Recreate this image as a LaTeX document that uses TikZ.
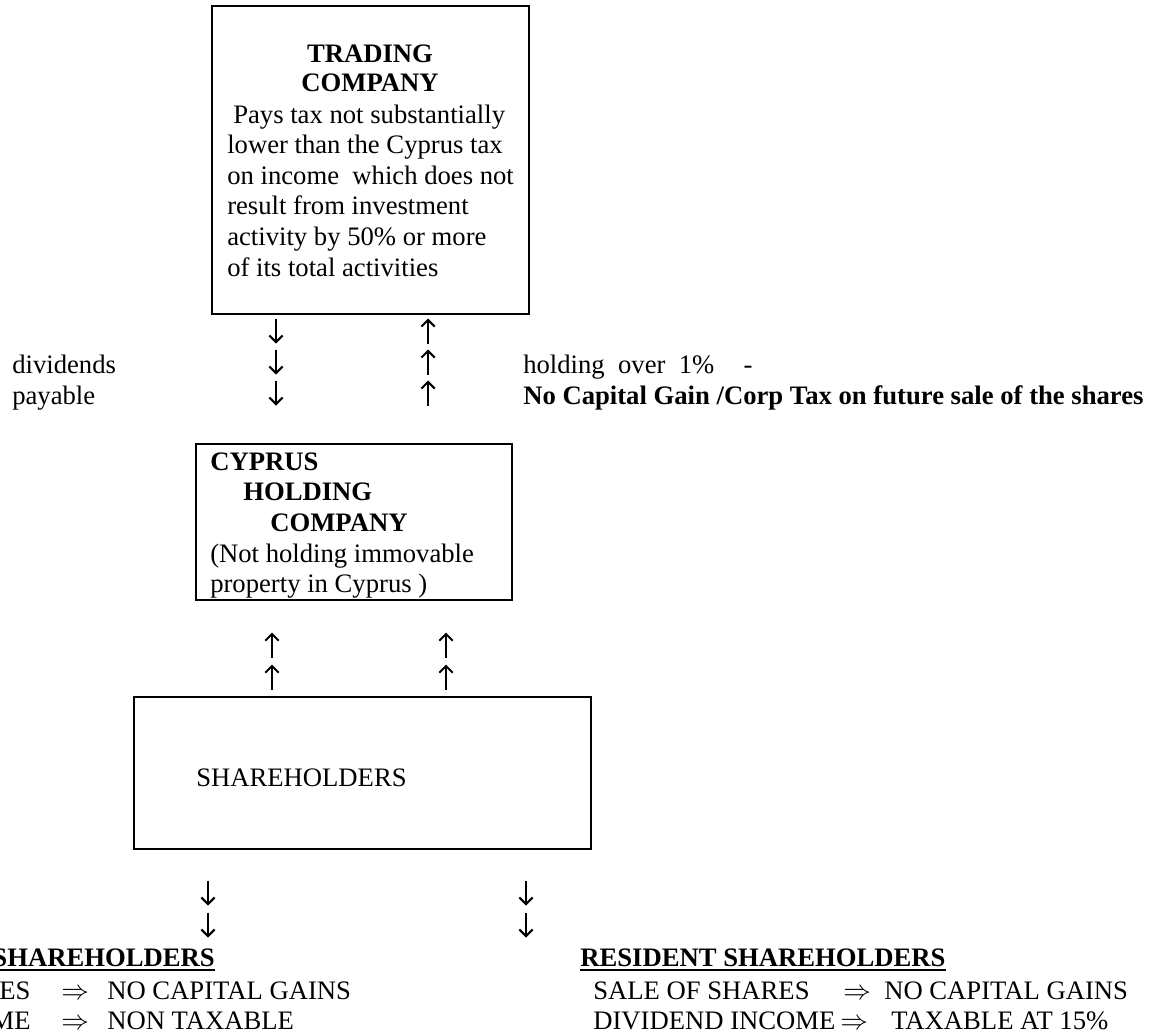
\documentclass[tikz,border=0pt]{standalone}
\usepackage{fontspec}
\setmainfont{Liberation Serif}
\usetikzlibrary{arrows.meta,positioning}

\tikzset{
  panel/.style={draw, line width=1.3pt, inner sep=0pt, anchor=north west},
  txt/.style={anchor=base west, inner sep=0pt, font=\fontsize{20}{24}\selectfont},
  hd/.style={txt, font=\fontsize{20}{24}\selectfont\bfseries},
  flow/.style={line width=1.5pt, -{Straight Barb[length=5pt,width=10pt]}},
  uline/.style={line width=1.4pt},
}

\begin{document}
\begin{tikzpicture}[x=0.75pt,y=-0.75pt]
  \useasboundingbox (0,0) rectangle (1159,1035);

  % the three boxes
  \node[panel, minimum width=237.75pt, minimum height=231pt] (trading) at (211,5) {};
  \node[panel, minimum width=237pt, minimum height=117pt] (cyprus) at (195,443) {};
  \node[panel, minimum width=342.75pt, minimum height=114pt] (holders) at (133,696) {};

  % trading company
  \node[hd, anchor=base] (trA) at (370,62) {TRADING};
  \node[hd, anchor=base] (trB) at (370,91) {COMPANY};
  \node[txt] (trC) at (233,123) {Pays tax not substantially};
  \foreach \t [count=\i] in {lower than the Cyprus tax,
      on income\ \ which does not, result from investment,
      activity by 50\% or more, of its total activities}
    \node[txt] (trD\i) at (227,{123+\i*30.6}) {\t};

  % dividends up/down
  \foreach \y in {331,362,393} {
    \draw[flow] (276,{\y-12.5}) -- (276,{\y+12.5});
    \draw[flow] (428,{\y+12.5}) -- (428,{\y-12.5});
  }
  \node[txt] (divA) at (12,373) {dividends};
  \node[txt] (divB) at (12,404) {payable};
  \node[txt] (holdA) at (523,373) {holding\ \ over\ \ 1\%\hspace{1.1em}-};
  \node[hd] (holdB) at (523,404) {No Capital Gain /Corp Tax on future sale of the shares};

  % cyprus holding company
  \node[hd] (cyA) at (210,470) {CYPRUS};
  \node[hd] (cyB) at (243,500) {HOLDING};
  \node[hd] (cyC) at (270,531) {COMPANY};
  \node[txt] (cyD) at (210,562) {(Not holding immovable};
  \node[txt] (cyE) at (210,592) {property in Cyprus )};

  \foreach \y in {645,677} {
    \draw[flow] (272,{\y+12.5}) -- (272,{\y-12.5});
    \draw[flow] (446,{\y+12.5}) -- (446,{\y-12.5});
  }

  % shareholders
  \node[txt] (shA) at (196,786) {SHAREHOLDERS};
  \foreach \y in {893,925} {
    \draw[flow] (208,{\y-12.5}) -- (208,{\y+12.5});
    \draw[flow] (526,{\y-12.5}) -- (526,{\y+12.5});
  }

  % non resident side (cut at the edge)
  \node[hd, anchor=base east] (nrA) at (215,966) {SHAREHOLDERS};
  \draw[uline] ([yshift=-3pt]nrA.base west) -- ([yshift=-3pt]nrA.base east);
  \node[txt] (nrB) at (-1,999) {ES};
  \node[txt] (nrC) at (61,999) {$\Rightarrow$};
  \node[txt] (nrD) at (107,999) {NO CAPITAL GAINS};
  \node[txt, anchor=base east] (nrE) at (31,1029) {ME};
  \node[txt] (nrF) at (61,1029) {$\Rightarrow$};
  \node[txt] (nrG) at (107,1029) {NON TAXABLE};

  % resident side
  \node[hd] (rsA) at (580,966) {RESIDENT SHAREHOLDERS};
  \draw[uline] ([yshift=-3pt]rsA.base west) -- ([yshift=-3pt]rsA.base east);
  \node[txt] (rsB) at (593,999) {SALE OF SHARES};
  \node[txt] (rsC) at (843,999) {$\Rightarrow$};
  \node[txt] (rsD) at (884,999) {NO CAPITAL GAINS};
  \node[txt] (rsE) at (593,1029) {DIVIDEND INCOME};
  \node[txt] (rsF) at (840,1029) {$\Rightarrow$};
  \node[txt] (rsG) at (891,1029) {TAXABLE AT 15\%};
\end{tikzpicture}
\end{document}
